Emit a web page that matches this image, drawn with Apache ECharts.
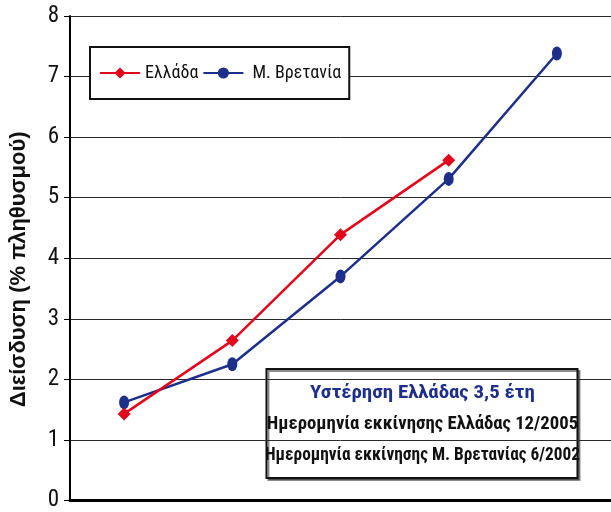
<!DOCTYPE html>
<html><head><meta charset="utf-8">
<script src="https://cdn.jsdelivr.net/npm/echarts@6/dist/echarts.min.js"></script>
<style>html,body{margin:0;padding:0;background:#fff}#c{width:611px;height:512px}</style>
</head><body><div id="c"></div>
<script>
const categories = ['1', '2', '3', '4', '5'];
const greece = [1.43, 2.64, 4.39, 5.62, null];
const uk = [1.62, 2.25, 3.70, 5.31, 7.38];
const yTicks = [0, 1, 2, 3, 4, 5, 6, 7, 8];
const yName = 'Διείσδυση (% πληθυσμού)';
const noteLines = ['Υστέρηση Ελλάδας 3,5 έτη', 'Ημερομηνία εκκίνησης Ελλάδας 12/2005', 'Ημερομηνία εκκίνησης Μ. Βρετανίας 6/2002'];

const COND = '"Roboto Condensed", "Open Sans Condensed", sans-serif';
const BOLDC = '"Roboto Condensed", "Open Sans Condensed", sans-serif';
const chart = echarts.init(document.getElementById('c'));
chart.setOption({
  animation: false,
  grid: { left: 64, right: -3, top: 16, bottom: 7, containLabel: false },
  legend: {
    orient: 'horizontal',
    left: 90, top: 47,
    padding: [17, 8, 17, 9],
    itemGap: 4,
    itemWidth: 40, itemHeight: 14,
    backgroundColor: '#fff', borderColor: '#111', borderWidth: 2,
    textStyle: { fontFamily: COND, fontSize: 18, color: '#111' },
    formatter: function (n) { return n === 'Μ. Βρετανία' ? ' ' + n : n; },
    data: ['Ελλάδα', 'Μ. Βρετανία']
  },
  xAxis: {
    type: 'category', data: categories, boundaryGap: true,
    axisLine: { lineStyle: { color: '#000', width: 3 } },
    axisTick: { show: false }, axisLabel: { show: false }
  },
  yAxis: {
    type: 'value', min: yTicks[0], max: yTicks[yTicks.length - 1], interval: 1,
    name: yName, nameLocation: 'middle', nameGap: 40, nameRotate: 90,
    nameTextStyle: { fontFamily: '"Liberation Sans", Arial, sans-serif', fontWeight: 'bold', fontSize: 22, color: '#111', padding: [0, 22, 0, 0] },
    axisLine: { show: true, lineStyle: { color: '#000', width: 2 } },
    axisTick: { show: true, length: 6, lineStyle: { color: '#000', width: 1 } },
    axisLabel: { fontFamily: COND, fontSize: 23, color: '#111', margin: 11 },
    splitLine: { lineStyle: { color: '#2a2a2a', width: 1 } }
  },
  series: [
    { name: 'Ελλάδα', type: 'line', data: greece, symbol: 'diamond', symbolSize: 13,
      lineStyle: { color: '#e3051b', width: 2.5 }, itemStyle: { color: '#e3051b' }, z: 3 },
    { name: 'Μ. Βρετανία', type: 'line', data: uk, symbol: 'circle', symbolSize: [10, 14],
      lineStyle: { color: '#1d2f8a', width: 2.5 }, itemStyle: { color: '#1d2f8a' }, z: 2 }
  ],
  graphic: [{
    type: 'group', left: 265, top: 368, z: 100,
    children: [
      { type: 'rect', shape: { x: 0, y: 0, width: 311, height: 109 },
        style: { fill: '#fff', stroke: '#111', lineWidth: 2, shadowColor: 'rgba(0,0,0,0.45)', shadowOffsetX: 2, shadowOffsetY: 2 } },
      { type: 'text', x: 156, y: 24, scaleX: 1.1, style: { text: noteLines[0], align: 'center', verticalAlign: 'middle', fill: '#1d2f8a', font: 'bold 19px ' + BOLDC } },
      { type: 'text', x: 156, y: 55, scaleX: 0.985, style: { text: noteLines[1], align: 'center', verticalAlign: 'middle', fill: '#111', font: 'bold 19px ' + BOLDC } },
      { type: 'text', x: 156, y: 86, scaleX: 0.91, style: { text: noteLines[2], align: 'center', verticalAlign: 'middle', fill: '#111', font: 'bold 19px ' + BOLDC } }
    ]
  }]
});
</script></body></html>
